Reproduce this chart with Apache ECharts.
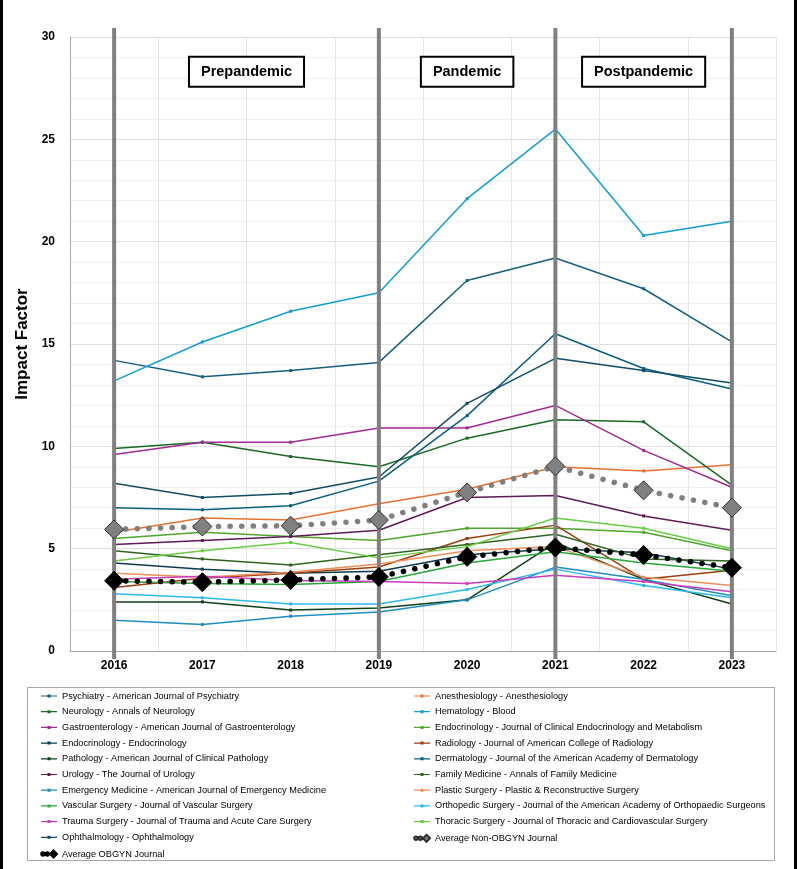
<!DOCTYPE html>
<html>
<head>
<meta charset="utf-8">
<script src="https://cdn.jsdelivr.net/npm/echarts@6/dist/echarts.min.js"></script>
<style>
html,body{margin:0;padding:0;background:#fff;}
#c{width:797px;height:869px;}
</style>
</head>
<body>
<div id="c"></div>
<script>
const years = ['2016','2017','2018','2019','2020','2021','2022','2023'];
const yTicks = [0, 5, 10, 15, 20, 25, 30];

const psychiatry     = [14.2, 13.4, 13.7, 14.1, 18.1, 19.2, 17.7, 15.1];
const anesthesiology = [5.8, 6.5, 6.4, 7.2, 7.9, 9.0, 8.8, 9.1];
const neurology      = [9.9, 10.2, 9.5, 9.0, 10.4, 11.3, 11.2, 8.1];
const hematology     = [13.2, 15.1, 16.6, 17.5, 22.1, 25.5, 20.3, 21.0];
const gastro         = [9.6, 10.2, 10.2, 10.9, 10.9, 12.0, 9.8, 8.0];
const endoJCEM       = [5.5, 5.8, 5.6, 5.4, 6.0, 6.0, 5.8, 4.9];
const endocrinology  = [4.3, 4.0, 3.8, 3.9, 4.7, 5.0, 4.8, 4.0];
const radiology      = [3.1, 3.55, 3.8, 4.1, 5.5, 6.15, 3.5, 3.95];
const pathology      = [2.4, 2.4, 2.0, 2.1, 2.5, 5.3, 3.5, 2.3];
const dermatology    = [7.0, 6.9, 7.1, 8.3, 11.5, 15.5, 13.8, 12.8];
const urology        = [5.2, 5.4, 5.6, 5.9, 7.5, 7.6, 6.6, 5.9];
const familyMed      = [4.9, 4.5, 4.2, 4.7, 5.2, 5.7, 4.5, 4.4];
const emergency      = [1.5, 1.3, 1.7, 1.9, 2.5, 4.1, 3.5, 2.7];
const plastic        = [3.8, 3.6, 3.85, 4.25, 4.9, 5.1, 3.6, 3.2];
const vascular       = [3.4, 3.3, 3.25, 3.4, 4.3, 4.85, 4.3, 3.9];
const ortho          = [2.8, 2.6, 2.3, 2.3, 3.0, 4.0, 3.2, 2.6];
const trauma         = [3.5, 3.65, 3.45, 3.4, 3.3, 3.7, 3.4, 2.9];
const thoracic       = [4.4, 4.9, 5.3, 4.55, 5.1, 6.5, 6.0, 5.0];
const ophthalmology  = [8.2, 7.5, 7.7, 8.5, 12.1, 14.3, 13.7, 13.1];
const avgNonObgyn    = [5.94, 6.08, 6.12, 6.4, 7.75, 9.02, 7.85, 7.0];
const avgObgyn       = [3.43, 3.36, 3.47, 3.62, 4.6, 5.06, 4.69, 4.07];

const seriesNames = [
  'Psychiatry - American Journal of Psychiatry',
  'Anesthesiology - Anesthesiology',
  'Neurology - Annals of Neurology',
  'Hematology - Blood',
  'Gastroenterology - American Journal of Gastroenterology',
  'Endocrinology - Journal of Clinical Endocrinology and Metabolism',
  'Endocrinology - Endocrinology',
  'Radiology - Journal of American College of Radiology',
  'Pathology - American Journal of Clinical Pathology',
  'Dermatology - Journal of the American Academy of Dermatology',
  'Urology - The Journal of Urology',
  'Family Medicine - Annals of Family Medicine',
  'Emergency Medicine - American Journal of Emergency Medicine',
  'Plastic Surgery - Plastic & Reconstructive Surgery',
  'Vascular Surgery - Journal of Vascular Surgery',
  'Orthopedic Surgery - Journal of the American Academy of Orthopaedic Surgeons',
  'Trauma Surgery - Journal of Trauma and Acute Care Surgery',
  'Thoracic Surgery - Journal of Thoracic and Cardiovascular Surgery',
  'Ophthalmology - Ophthalmology'
];
const seriesData = [psychiatry, anesthesiology, neurology, hematology, gastro, endoJCEM,
  endocrinology, radiology, pathology, dermatology, urology, familyMed,
  emergency, plastic, vascular, ortho, trauma, thoracic, ophthalmology];
const seriesColors = ['#156082','#E97132','#196B24','#0F9ED5','#A02B93','#4EA72E',
  '#0D3A4E','#9A3F10','#0F4016','#095F80','#601A58','#2F641C',
  '#1F8DC0','#EE8E5B','#27A838','#2CB9F0','#CB3DBA','#69CC45','#114D68'];
const avgNames = ['Average Non-OBGYN Journal', 'Average OBGYN Journal'];

const dividerYears = ['2016','2019','2021','2023'];
const periodLabels = ['Prepandemic','Pandemic','Postpandemic'];
const periodSpans = [['2017','2018'],['2020','2020'],['2022','2022']];
const periodLabelValue = 28.3;

const lineIcon = 'path://M0,0M16,10M0,4.4H6.5V3.5H9.5V4.4H16V5.6H9.5V6.5H6.5V5.6H0Z';
const avgIcon = 'path://M0,0M16,10M0.2,5a1.7,1.7 0 1,0 3.4,0a1.7,1.7 0 1,0 -3.4,0M4.6,5a1.7,1.7 0 1,0 3.4,0a1.7,1.7 0 1,0 -3.4,0M12.5,1.5L16,5L12.5,8.5L9,5Z';

const series = seriesData.map((d, i) => ({
  name: seriesNames[i], type: 'line', data: d, z: 2,
  symbol: 'rect', symbolSize: 3, showSymbol: true,
  itemStyle: {color: seriesColors[i]},
  lineStyle: {color: seriesColors[i], width: 1.5},
  emphasis: {disabled: true}
}));
series.push({
  name: avgNames[0], type: 'line', data: avgNonObgyn, z: 5,
  symbol: 'diamond', symbolSize: 19,
  itemStyle: {color: '#808080', borderColor: '#303030', borderWidth: 1},
  lineStyle: {color: '#808080', width: 5.5, type: [0.1, 11.5], cap: 'round'},
  emphasis: {disabled: true}
});
series.push({
  name: avgNames[1], type: 'line', data: avgObgyn, z: 6,
  symbol: 'diamond', symbolSize: 19,
  itemStyle: {color: '#000000', borderColor: '#000', borderWidth: 1},
  lineStyle: {color: '#000000', width: 5.5, type: [0.1, 11.5], cap: 'round'},
  emphasis: {disabled: true}
});

const allNames = seriesNames.concat(avgNames);
const leftCol = [], rightCol = [];
allNames.forEach((n, i) => {
  const item = {name: n, icon: avgNames.indexOf(n) >= 0 ? avgIcon : lineIcon};
  (i % 2 === 0 ? leftCol : rightCol).push(item);
});
const legendText = {fontFamily: 'Liberation Sans, Arial', fontSize: 9.2, color: '#000', lineHeight: 10};

const chart = echarts.init(document.getElementById('c'), null, {renderer: 'canvas'});
const option = {
  animation: false,
  backgroundColor: '#fff',
  grid: {left: 70, right: 21, top: 37, bottom: 218},
  legend: [
    {data: leftCol, orient: 'vertical', left: 40, top: 691, padding: 0, itemWidth: 16, itemHeight: 10,
     itemGap: 5.7, textStyle: legendText, selectedMode: false},
    {data: rightCol, orient: 'vertical', left: 413, top: 691, padding: 0, itemWidth: 16, itemHeight: 10,
     itemGap: 5.7, textStyle: legendText, selectedMode: false}
  ],
  xAxis: {
    type: 'category', data: years, boundaryGap: true,
    axisLine: {show: true, lineStyle: {color: '#a6a6a6', width: 1}},
    axisTick: {show: false},
    axisLabel: {fontFamily: 'Liberation Sans, Arial', fontWeight: 'bold', fontSize: 12, color: '#000', margin: 9},
    splitLine: {show: true, interval: 0, lineStyle: {color: '#e6e6e6', width: 1}}
  },
  yAxis: {
    type: 'value', min: yTicks[0], max: yTicks[yTicks.length - 1], interval: 5,
    name: 'Impact Factor', nameLocation: 'middle', nameGap: 38,
    nameTextStyle: {fontFamily: 'Liberation Sans, Arial', fontWeight: 'bold', fontSize: 17, color: '#000'},
    axisLine: {show: true, lineStyle: {color: '#a6a6a6', width: 1}},
    axisTick: {show: false},
    axisLabel: {fontFamily: 'Liberation Sans, Arial', fontWeight: 'bold', fontSize: 12, color: '#000', margin: 15},
    splitLine: {show: true, lineStyle: {color: '#e0e0e0', width: 1}},
    minorTick: {show: false, splitNumber: 5},
    minorSplitLine: {show: true, lineStyle: {color: '#f0f0f0', width: 1}}
  },
  series: series
};
chart.setOption(option);

const yTop = chart.convertToPixel({yAxisIndex: 0}, yTicks[yTicks.length - 1]);
const yBottom = chart.convertToPixel({yAxisIndex: 0}, yTicks[0]);
const graphics = [];
dividerYears.forEach(y => {
  const x = chart.convertToPixel({xAxisIndex: 0}, y);
  graphics.push({type: 'line', z: 3, silent: true,
    shape: {x1: x, y1: yTop - 9, x2: x, y2: yBottom + 8},
    style: {stroke: '#808080', lineWidth: 4}});
});
periodLabels.forEach((t, i) => {
  const x = (chart.convertToPixel({xAxisIndex: 0}, periodSpans[i][0]) +
             chart.convertToPixel({xAxisIndex: 0}, periodSpans[i][1])) / 2;
  const y = chart.convertToPixel({yAxisIndex: 0}, periodLabelValue);
  graphics.push({type: 'text', z: 7, silent: true, x: x, y: y,
    style: {text: t, font: 'bold 14.5px "Liberation Sans", Arial', fill: '#000',
      align: 'center', verticalAlign: 'middle',
      backgroundColor: '#fff', borderColor: '#000', borderWidth: 2, padding: [7, 11, 6, 11]}});
});
graphics.push({type: 'rect', z: 0, silent: true,
  shape: {x: 27.5, y: 687.5, width: 747, height: 173},
  style: {fill: 'none', stroke: '#a6a6a6', lineWidth: 1}});
graphics.push({type: 'line', z: 0, silent: true, shape: {x1: 1.5, y1: 0, x2: 1.5, y2: 869}, style: {stroke: '#000', lineWidth: 3}});
graphics.push({type: 'line', z: 0, silent: true, shape: {x1: 795.5, y1: 0, x2: 795.5, y2: 869}, style: {stroke: '#000', lineWidth: 3}});
chart.setOption({graphic: graphics});
</script>
</body>
</html>
